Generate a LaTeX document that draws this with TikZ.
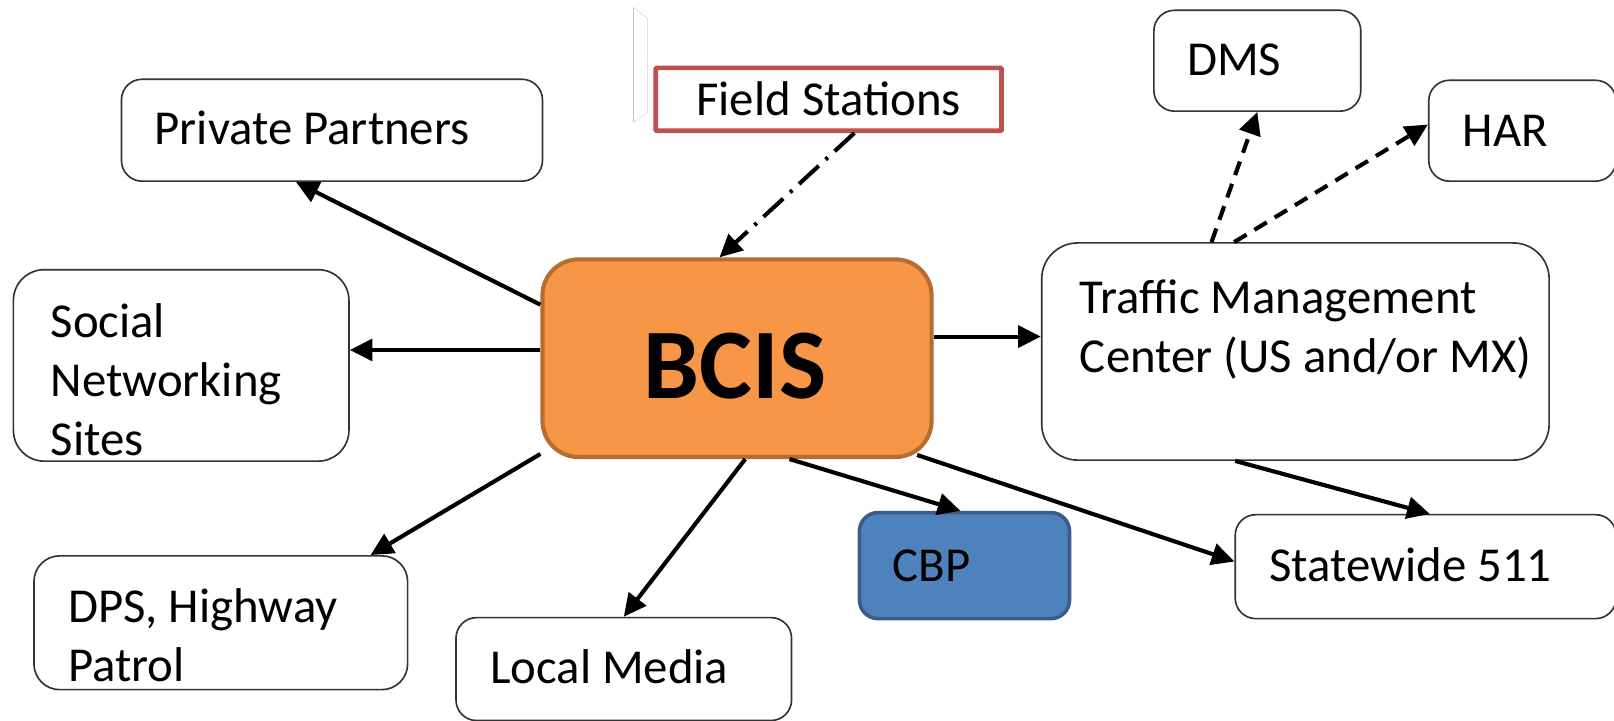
\documentclass[tikz,border=0pt]{standalone}
\usepackage{fontspec}
\setmainfont{Carlito}
\usetikzlibrary{arrows.meta}
\definecolor{bcisfill}{HTML}{F79646}
\definecolor{bcisdraw}{HTML}{B66D31}
\definecolor{cbpfill}{HTML}{4F81BD}
\definecolor{cbpdraw}{HTML}{385D8A}
\definecolor{fsdraw}{HTML}{C0504D}
\begin{document}
\begin{tikzpicture}[x=1pt,y=-1pt,
  wbox/.style={draw=black!80, line width=1.6pt, rounded corners=20pt, fill=white, inner sep=0pt},
  txt/.style={font=\fontsize{47.4}{57}\selectfont, inner sep=0pt, align=left},
  conn/.style={line width=4pt, -{Triangle[length=22pt,width=21pt]}},
]
\useasboundingbox (0,0) rectangle (1568,700);
\fill[white] (0,0) rectangle (1568,700);

% stray mark
\draw[gray!45, line width=0.8pt] (615,7) -- (615,119);
\draw[gray!25, line width=0.8pt] (615,7) -- (629,18) -- (629,109) -- (615,119);

% boxes
\node[wbox, minimum width=409pt, minimum height=99pt] (pp) at (322.5,126.5) {};
\node[wbox, minimum width=326pt, minimum height=186pt, rounded corners=30pt] (sns) at (176,355) {};
\node[draw=bcisdraw, fill=bcisfill, line width=4pt, rounded corners=35pt, inner sep=0pt,
      minimum width=378pt, minimum height=192pt] (bcis) at (716,348) {};
\node[draw=fsdraw, line width=4.5pt, fill=white, inner sep=0pt, rounded corners=1pt,
      minimum width=336pt, minimum height=61pt] (fs) at (805,96.5) {};
\node[wbox, minimum width=201pt, minimum height=98pt] (dms) at (1221.5,59) {};
\node[wbox, minimum width=182pt, minimum height=98pt] (har) at (1479,127) {};
\node[wbox, minimum width=493pt, minimum height=211pt, rounded corners=35pt] (tmc) at (1258.5,341.5) {};
\node[wbox, minimum width=370pt, minimum height=101pt] (sw) at (1385,550.5) {};
\node[draw=cbpdraw, fill=cbpfill, line width=3.5pt, rounded corners=18pt, inner sep=0pt,
      minimum width=204pt, minimum height=103pt] (cbp) at (937,549.5) {};
\node[wbox, minimum width=363pt, minimum height=130pt, rounded corners=25pt] (dps) at (214.5,605) {};
\node[wbox, minimum width=326pt, minimum height=100pt] (lm) at (606,650) {};

% texts
\node[txt, anchor=base west] (ppt) at (150,140) {Private Partners};
\node[txt, anchor=base] (fst) at (805,112) {Field Stations};
\node[txt, anchor=base west] (dmst) at (1153,73) {DMS};
\node[txt, anchor=base west] (hart) at (1421,142) {HAR};
\node[txt, anchor=north west] (snst) at (49,295) {Social\\Networking\\Sites};
\node[font=\fontsize{97}{100}\selectfont\bfseries, inner sep=0pt, anchor=base] (bcist) at (714,387) {BCIS};
\node[txt, anchor=north west] (tmct) at (1049,272) {Traffic Management\\Center (US and/or MX)};
\node[txt, anchor=north west] (dpst) at (66,572) {DPS, Highway\\Patrol};
\node[txt, anchor=base west] (cbpt) at (867,565) {CBP};
\node[txt, anchor=base west] (swt) at (1233,565) {Statewide 511};
\node[txt, anchor=base west] (lmt) at (476,664) {Local Media};

% connectors
\draw[conn] ([yshift=52pt]bcis.west) -- ([xshift=-35pt]pp.south);
\draw[conn] ([yshift=8pt]bcis.west) -- ([yshift=15pt]sns.east);
\draw[conn] ([yshift=-93pt]bcis.west) -- ([xshift=145.5pt]dps.north);
\draw[conn] ([xshift=8pt]bcis.south) -- (lm.north);
\draw[conn] ([xshift=51pt]bcis.south) -- ([xshift=-4pt]cbp.north);
\draw[conn] ([xshift=-16pt,yshift=4pt]bcis.south east) -- ([yshift=5pt]sw.west);
\draw[conn] ([yshift=21pt]bcis.east) -- ([yshift=14.5pt]tmc.west);
\draw[conn, dash pattern=on 26pt off 9pt on 3pt off 9pt] ([xshift=25pt]fs.south) -- ([xshift=-17pt]bcis.north);
\draw[conn, dash pattern=on 14pt off 9pt] ([xshift=-81.5pt]tmc.north) -- (dms.south);
\draw[conn, dash pattern=on 14pt off 9pt] ([xshift=-59.5pt]tmc.north) -- ([yshift=6pt]har.west);
\draw[conn] ([xshift=-58.5pt]tmc.south) -- ([xshift=4pt]sw.north);
\end{tikzpicture}
\end{document}
